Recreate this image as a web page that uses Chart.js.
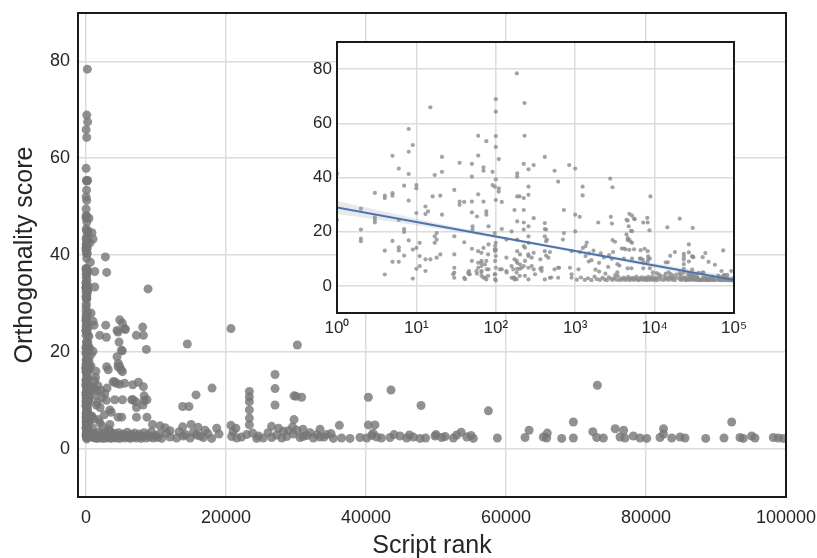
<!DOCTYPE html>
<html><head><meta charset="utf-8">
<script src="https://cdn.jsdelivr.net/npm/chart.js@4/dist/chart.umd.min.js"></script>
<style>
html,body{margin:0;padding:0;background:#fff;}
#wrap{position:relative;width:817px;height:558px;overflow:hidden;}
#main{position:absolute;left:0;top:0;}
#inset{position:absolute;left:280px;top:30px;}
</style></head><body>
<div id="wrap"><canvas id="main" width="817" height="558"></canvas><canvas id="inset" width="480" height="320"></canvas></div>
<script>
// ---- data: [script rank, orthogonality score] ----
const scriptsTop1k = [
[1,41.5],[1,24.4],
[2,28.5],[2,20.8],[2,17.5],[2,16.5],
[3,34.3],[3,25.3],[3,24.4],[3,23.4],
[4,33.3],[4,32.4],[4,13.0],[4,4.2],
[5,48.0],[5,34.2],[5,33.3],[5,16.6],[5,8.9],
[6,43.3],[6,24.4],[6,14.2],[6,13.1],[6,8.9],
[7,37.0],[7,21.0],[7,19.9],[7,11.2],
[8,57.9],[8,49.5],[8,41.3],[8,31.5],[8,16.8],
[9,52.0],[9,13.4],[9,2.7],
[10,37.2],[10,36.0],[10,26.9],[10,14.0],[10,6.3],
[11,15.9],[11,11.0],[11,7.3],
[13,26.5],[13,29.3],[13,9.8],[13,5.5],[14,27.5],
[15,65.9],[15,9.8],[16,33.0],
[17,40.9],[17,18.3],[17,15.9],[18,19.5],[18,17.1],[18,10.4],
[20,33.3],[20,11.6],[21,47.6],[21,42.1],[21,26.3],
[29,4.3],[30,35.4],[30,18.3],[30,11.6],[30,6.7],[30,4.9],[30,3.0],
[35,45.4],[35,31.1],[35,29.9],
[40,31.0],[40,16.1],[40,3.0],[41,2.5],[45,4.9],[46,5.5],[46,4.3],[47,4.3],
[50,45.0],[50,40.3],[50,31.1],[50,27.1],[51,22.0],[51,20.8],[50,13.7],[50,9.2],
[57,5.5],[58,25.6],[58,4.5],
[60,55.4],[60,48.1],[60,33.8],[60,12.8],[60,8.5],[60,6.7],
[66,12.2],[66,9.2],[66,8.5],[66,7.3],[66,5.5],[66,5.1],[66,3.7],
[70,43.7],[70,42.5],[70,31.1],[70,14.0],[70,3.0],[73,7.9],[73,3.1],
[76,53.4],[76,27.5],[76,26.3],[76,9.2],[76,2.4],[77,6.1],
[80,11.6],[80,3.7],[81,22.0],[81,15.3],[81,6.1],
[91,42.1],[91,37.2],
[97,36.6],[97,19.5],[97,13.4],[97,4.3],
[98,14.7],[98,12.8],[98,9.2],[98,4.3],[98,2.5],
[100,68.9],[100,64.3],[100,55.3],[100,51.3],[100,39.3],[100,31.7],[100,15.9],[100,13.4],[100,11.0],[100,6.7],[100,2.0],
[109,46.8],[109,36.0],[109,34.8],[113,6.1],
[119,31.0],[119,21.0],[119,6.1],
[136,17.1],[136,10.4],[136,5.5],[137,4.9],
[158,20.1],[158,7.3],[158,3.0],[166,6.1],[166,3.1],
[172,28.0],[172,9.8],[172,3.0],[172,2.4],
[183,9.2],[183,4.9],[183,2.5],[184,78.4],
[186,41.5],[186,40.3],[186,33.0],[186,23.8],[186,17.1],[186,12.8],[186,8.5],[186,6.3],
[200,33.0],[200,6.3],[200,3.7],[202,11.6],[202,7.9],[212,6.7],
[225,45.0],[225,32.4],[225,28.0],[225,23.4],[225,20.8],[225,14.7],[225,7.3],
[230,67.5],[230,55.4],[233,14.1],[233,9.2],[233,3.7],
[257,11.6],[257,6.7],
[258,43.0],[258,36.6],[258,33.6],[258,22.0],[258,18.3],[258,15.9],[258,11.0],[258,2.4],
[283,10.4],[283,7.3],
[300,44.6],[300,25.0],[300,12.2],[300,6.1],[312,4.3],
[364,9.8],[364,6.3],[378,5.5],[378,6.7],
[414,47.6],[414,23.2],[414,21.0],[414,18.3],[414,12.8],[414,2.4],
[430,20.8],[430,16.5],[430,11.2],[440,17.1],[459,10.4],
[480,12.5],[480,3.0],[500,3.1],
[550,42.5],[550,6.1],
[610,38.5],[610,6.7],[610,3.0],[627,6.7],
[700,17.1],[720,28.0],[720,19.5],
[840,44.6],[860,6.7],
[900,12.8],[900,4.3],[900,3.0]
];
const scripts1kTo10k = [
[1000,43.3],[1000,26.3],[1000,20.1],[1050,2.3],[1100,6.1],[1140,25.5],[1150,12.5],[1180,3.1],
[1240,36.6],[1240,33.4],[1250,14.0],[1320,2.2],[1350,14.7],[1350,11.0],[1400,16.0],[1450,2.8],[1480,9.0],
[1500,12.0],[1600,2.1],[1600,9.5],[1700,13.0],[1750,3.4],[1800,6.0],[1880,2.5],[1950,23.4],[2000,8.5],[2000,5.3],
[2050,2.2],[2100,12.0],[2200,3.0],[2300,10.5],[2350,2.4],[2400,4.5],[2500,2.1],[2600,7.0],[2650,3.2],[2670,11.4],
[2760,39.6],[2800,2.6],[2810,25.5],[2900,23.0],[2900,10.0],[2950,36.4],[2950,16.9],[2950,2.2],[3000,12.5],
[3100,2.9],[3170,16.3],[3200,4.0],[3300,2.3],[3400,8.0],[3400,5.0],[3450,3.6],[3600,2.1],[3600,7.5],[3800,2.7],
[3860,13.8],[3950,2.3],[4100,13.8],[4100,10.1],[4100,3.1],[4300,2.2],[4300,13.5],[4430,24.4],[4430,19.0],
[4450,2.6],[4570,24.1],[4570,16.9],[4570,6.5],[4600,17.6],[4650,3.3],[4720,22.0],[4800,13.3],[4800,17.0],
[4800,2.1],[4810,26.6],[5000,16.3],[5000,2.8],[5050,20.3],[5100,6.5],[5150,2.4],[5190,25.9],[5190,20.2],
[5200,15.9],[5200,10.1],[5350,3.0],[5500,13.5],[5500,2.2],[5520,24.8],[5620,24.6],[5700,2.7],[5900,3.4],
[6100,2.3],[6300,2.1],[6500,2.9],[6530,10.1],[6670,13.2],[6700,10.1],[6750,2.4],[6950,3.2],[7100,9.7],
[7150,2.2],[7190,23.4],[7200,8.5],[7200,6.5],[7400,2.6],[7480,13.7],[7600,3.0],[7850,2.1],[8050,2.5],
[8090,25.1],[8140,9.0],[8190,23.4],[8190,12.8],[8300,10.9],[8300,9.9],[8300,3.3],[8550,2.2],[8620,20.5],
[8700,10.1],[8700,6.5],[8800,2.8],[8860,33.0],[9100,2.4],[9350,3.5],[9500,5.0],[9600,2.2],[9900,2.7]
];
const scriptsOver10k = [
[10200,2.3],[10500,3.0],[10570,4.7],[10800,2.1],[11290,4.3],[11500,3.2],[12000,3.7],[12000,2.4],[12950,2.2],
[13300,3.5],[13800,8.7],[13800,4.5],[13900,2.6],[14200,2.9],[14470,21.6],[14700,8.7],[14860,2.2],[15000,5.0],
[15300,3.3],[15710,11.1],[15810,2.8],[16000,4.4],[16300,2.6],[16760,2.3],[17000,3.8],[17400,3.1],[17950,2.1],
[18000,12.5],[18670,4.2],[19000,3.0],[20700,4.8],[20710,24.8],[20810,2.5],[21000,3.5],[21400,4.2],[21520,2.2],
[22200,2.4],[22950,2.9],[23330,11.8],[23330,10.7],[23330,9.7],[23330,8.0],[23330,6.3],[23330,4.9],[23800,3.2],
[24380,2.1],[24620,2.6],[25300,2.2],[26000,3.3],[26500,4.6],[26520,2.3],[27000,15.3],[27000,12.4],[27000,9.0],
[27240,2.8],[27500,4.2],[27960,2.2],[28200,3.6],[28670,2.5],[28900,3.7],[29500,4.5],[29620,3.0],[29710,10.9],
[29710,6.0],[30000,10.8],[30100,3.8],[30190,21.4],[30570,2.3],[30800,10.6],[31000,4.0],[31000,2.5],[31530,2.7],
[32000,3.3],[32480,2.2],[33000,2.9],[33430,4.0],[33430,2.4],[34000,2.4],[34380,2.9],[35000,3.1],[35330,2.1],
[36190,4.8],[36500,2.2],[37710,2.1],[39140,2.3],[40100,2.2],[40330,10.6],[40330,4.9],[40810,2.7],[41000,3.2],
[41280,4.9],[41530,2.4],[42200,2.2],[43430,2.3],[43570,12.1],[44000,2.9],[44860,2.6],[45810,2.2],[46200,2.8],
[46760,2.4],[47710,2.1],[47860,8.9],[48500,2.2],[49860,2.6],[50000,2.9],[50810,2.3],[51290,2.5],[52480,2.2],
[52960,2.8],[53600,3.4],[54390,2.4],[55000,2.7],[55330,2.1],[57480,7.8],[58760,2.2],[62720,2.3],[63300,3.8],
[65330,2.4],[65810,2.2],[65900,3.2],[67960,2.1],[69620,5.5],[69620,2.2],[72400,3.5],[72960,2.3],[73050,13.1],
[73910,2.2],[75600,4.1],[76290,2.4],[76800,3.8],[77000,2.2],[78190,2.6],[79140,2.2],[80100,2.1],[82000,2.3],
[82500,4.1],[82500,3.0],[83670,2.2],[84860,2.4],[85570,2.2],[88530,2.1],[91140,2.2],[92240,5.5],[93430,2.3],
[93900,2.1],[95100,2.6],[95570,2.2],[98190,2.3],[98900,2.2],[99610,2.1]
];
// regression fit (log10 rank) and its confidence band
const fitX = [1, 100000];
const fitY = [28.9, 2.2];
const bandX  = [1, 3, 10, 30, 100, 300, 1000, 3000, 10000, 30000, 100000];
const bandLo = [26.5, 24.55, 22.36, 20.21, 17.62, 15.17, 12.28, 9.63, 6.74, 3.99, 0.9];
const bandHi = [31.3, 28.15, 24.76, 21.81, 18.82, 16.17, 13.48, 11.03, 8.34, 5.99, 3.5];
// ticks
const mainXTicks = [0, 20000, 40000, 60000, 80000, 100000];
const mainYTicks = [0, 20, 40, 60, 80];
const insetXTicks = [1, 10, 100, 1000, 10000, 100000];
const insetXLabels = ['10\u2070', '10\u00B9', '10\u00B2', '10\u00B3', '10\u2074', '10\u2075'];
const insetYTicks = [0, 20, 40, 60, 80];

// ---- rendering ----
const allScripts = scriptsTop1k.concat(scripts1kTo10k, scriptsOver10k).map(([x, y]) => ({x, y}));
const FONT = "'Liberation Sans', Arial, Helvetica, sans-serif";
const TXT = '#262626';
const GRID = '#dcdcdc';

const framePlugin = {
  id: 'frame',
  beforeDraw(chart, args, opts) {
    if (opts && opts.fill) {
      const a = chart.chartArea, c = chart.ctx;
      c.save(); c.fillStyle = opts.fill;
      c.fillRect(a.left, a.top, a.right - a.left, a.bottom - a.top);
      c.restore();
    }
  },
  afterDraw(chart) {
    const a = chart.chartArea, c = chart.ctx;
    c.save(); c.strokeStyle = '#1a1a1a'; c.lineWidth = 2;
    c.strokeRect(a.left, a.top, a.right - a.left, a.bottom - a.top);
    c.restore();
  }
};

function setTicks(list) { return s => { s.ticks = list.map(v => ({value: v})); }; }
function fixBox(dim, size) {
  return s => { s[dim] = size; s.paddingLeft = 0; s.paddingRight = 0; s.paddingTop = 0; s.paddingBottom = 0; };
}

new Chart(document.getElementById('main'), {
  type: 'scatter',
  data: {datasets: [{
    data: allScripts, pointRadius: 4.5, pointHoverRadius: 4.5,
    pointBackgroundColor: 'rgba(118,118,118,0.8)', pointBorderWidth: 0, clip: 0
  }]},
  options: {
    responsive: false, animation: false, devicePixelRatio: 1,
    layout: {padding: {left: 0, right: 31, top: 13, bottom: 0}},
    plugins: {legend: {display: false}, tooltip: {enabled: false}, frame: {}},
    scales: {
      x: {
        type: 'linear', min: -1150, max: 100000,
        afterBuildTicks: setTicks(mainXTicks),
        afterFit: fixBox('height', 61),
        grid: {color: GRID, lineWidth: 1.5, drawTicks: false},
        border: {display: false},
        ticks: {font: {family: FONT, size: 18}, color: TXT, padding: 10, maxRotation: 0, autoSkip: false, callback: v => String(v)},
        title: {display: true, text: 'Script rank', font: {family: FONT, size: 25, lineHeight: 1}, color: TXT, padding: {top: 0, bottom: -1}}
      },
      y: {
        min: -10, max: 90,
        afterBuildTicks: setTicks(mainYTicks),
        afterFit: fixBox('width', 78),
        grid: {color: GRID, lineWidth: 1.5, drawTicks: false},
        border: {display: false},
        ticks: {font: {family: FONT, size: 18}, color: TXT, padding: 8, autoSkip: false, callback: v => String(v)},
        title: {display: true, text: 'Orthogonality score', font: {family: FONT, size: 25, lineHeight: 1}, color: TXT, padding: {top: 13, bottom: 0}}
      }
    }
  },
  plugins: [framePlugin]
});

new Chart(document.getElementById('inset'), {
  type: 'scatter',
  data: {datasets: [
    {data: fitX.map((x, i) => ({x, y: fitY[i]})), showLine: true, borderColor: '#4c72b0', borderWidth: 2, pointRadius: 0, order: 0, clip: 0},
    {data: bandX.map((x, i) => ({x, y: bandHi[i]})), showLine: true, borderWidth: 0, borderColor: 'rgba(0,0,0,0)', pointRadius: 0, fill: '+1', backgroundColor: 'rgba(150,155,165,0.22)', order: 1, clip: 0},
    {data: bandX.map((x, i) => ({x, y: bandLo[i]})), showLine: true, borderWidth: 0, borderColor: 'rgba(0,0,0,0)', pointRadius: 0, order: 1, clip: 0},
    {data: allScripts, pointRadius: 2.1, pointHoverRadius: 2.1, pointBackgroundColor: 'rgba(140,140,140,0.8)', pointBorderWidth: 0, order: 3, clip: 0}
  ]},
  options: {
    responsive: false, animation: false, devicePixelRatio: 1,
    layout: {padding: {left: 0, right: 26, top: 12, bottom: 0}},
    plugins: {legend: {display: false}, tooltip: {enabled: false}, frame: {fill: '#ffffff'}},
    scales: {
      x: {
        type: 'logarithmic', min: 1, max: 100000,
        afterBuildTicks: setTicks(insetXTicks),
        afterFit: fixBox('height', 37),
        grid: {color: GRID, lineWidth: 1.5, drawTicks: false},
        border: {display: false},
        ticks: {font: {family: FONT, size: 17}, color: TXT, padding: 5, maxRotation: 0, autoSkip: false,
                callback: v => { const k = insetXTicks.indexOf(v); return k >= 0 ? insetXLabels[k] : ''; }}
      },
      y: {
        min: -10, max: 90,
        afterBuildTicks: setTicks(insetYTicks),
        afterFit: fixBox('width', 57),
        grid: {color: GRID, lineWidth: 1.5, drawTicks: false},
        border: {display: false},
        ticks: {font: {family: FONT, size: 17}, color: TXT, padding: 5, autoSkip: false, callback: v => String(v)}
      }
    }
  },
  plugins: [framePlugin]
});
</script>
</body></html>
